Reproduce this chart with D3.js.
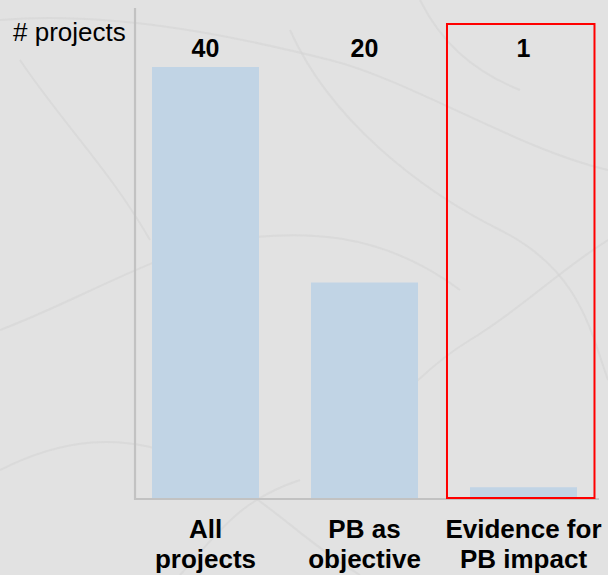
<!DOCTYPE html>
<html><head><meta charset="utf-8">
<script src="https://cdn.jsdelivr.net/npm/d3@7"></script>
<style>html,body{margin:0;padding:0;background:#e2e2e2;}svg{display:block;}</style>
</head><body>
<svg id="c" width="608" height="575"></svg>
<script>
const categories = [["All","projects"],["PB as","objective"],["Evidence for","PB impact"]];
const values = [40, 20, 1];
const valueLabels = ["40","20","1"];
const axisTitle = "# projects";
const highlightIndex = 2;

const W = 608, H = 575;
const svg = d3.select("#c");
const font = "'Liberation Sans', Arial, sans-serif";

// background texture
const bg = svg.append("g");
bg.append("rect").attr("width", W).attr("height", H).attr("fill", "#e2e2e2");
const veins = [
  "M0,20 C120,10 250,40 330,60 S520,150 608,170",
  "M290,30 C330,120 420,190 500,230 S590,330 608,380",
  "M0,330 C80,300 160,250 230,240 S380,230 460,290",
  "M20,60 C60,120 110,170 150,240",
  "M608,240 C560,270 520,310 470,340 S380,420 330,470",
  "M0,470 C60,440 120,430 190,460 S300,540 360,575",
  "M420,0 C440,40 470,70 520,90",
  "M180,575 C220,530 240,500 300,480"
];
bg.selectAll("path").data(veins).join("path")
  .attr("d", d => d).attr("fill", "none")
  .attr("stroke", "#d4d4d4").attr("stroke-width", 2).attr("opacity", 0.55);

const x0 = 135, yBase = 498;
const x = d3.scaleBand().domain(d3.range(values.length)).range([x0, 594])
  .paddingInner(0.327).paddingOuter(0.107);
const y = d3.scaleLinear().domain([0, 40]).range([yBase, 67]);

// bars
svg.append("g").selectAll("rect").data(values).join("rect")
  .attr("x", (d, i) => x(i)).attr("width", x.bandwidth())
  .attr("y", d => y(d)).attr("height", d => yBase - y(d))
  .attr("fill", "#c1d4e5");

// axes
svg.append("line").attr("x1", x0).attr("x2", x0).attr("y1", 8).attr("y2", yBase + 2)
  .attr("stroke", "#c2c2c2").attr("stroke-width", 2.2);
svg.append("line").attr("x1", x0).attr("x2", 599).attr("y1", yBase + 1).attr("y2", yBase + 1)
  .attr("stroke", "#c2c2c2").attr("stroke-width", 2.2);

// highlight box
const hx = x(highlightIndex);
svg.append("rect").attr("x", hx - 23).attr("y", 24)
  .attr("width", x.bandwidth() + 23 + 17.5).attr("height", yBase - 24)
  .attr("fill", "none").attr("stroke", "#ff0000").attr("stroke-width", 2);

// value labels
svg.append("g").selectAll("text").data(valueLabels).join("text")
  .attr("x", (d, i) => x(i) + x.bandwidth() / 2).attr("y", 57)
  .attr("text-anchor", "middle").attr("font-family", font)
  .attr("font-weight", "bold").attr("font-size", 25).attr("fill", "#000")
  .text(d => d);

// axis title
svg.append("text").attr("x", 13).attr("y", 41).attr("font-family", font)
  .attr("font-size", 26).attr("fill", "#000").text(axisTitle);

// category labels
const cg = svg.append("g").selectAll("text").data(categories).join("text")
  .attr("text-anchor", "middle").attr("font-family", font)
  .attr("font-weight", "bold").attr("font-size", 26).attr("fill", "#000");
cg.each(function(d, i) {
  const t = d3.select(this);
  const cx = x(i) + x.bandwidth() / 2;
  d.forEach((line, j) => {
    t.append("tspan").attr("x", cx).attr("y", 538 + j * 30).text(line);
  });
});
</script>
</body></html>
